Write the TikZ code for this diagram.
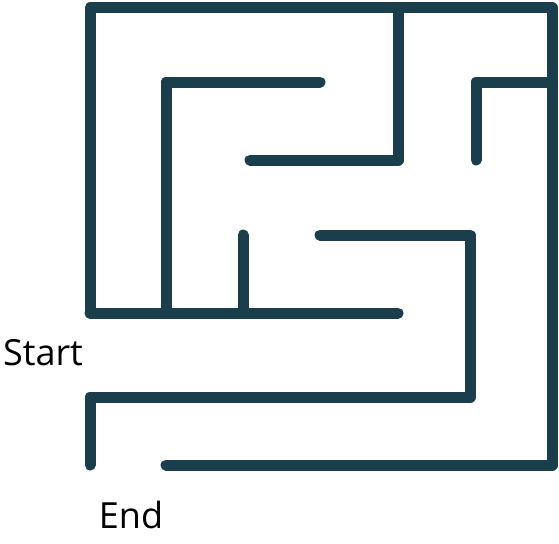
\documentclass[tikz,border=0pt]{standalone}
\usepackage{fontspec}
\setmainfont{Open Sans}
\usepackage{xcolor}
\usepackage{tikz}
\usetikzlibrary{positioning}

\definecolor{mazeteal}{HTML}{1A3E4C}

\begin{document}
\begin{tikzpicture}[
            x=1pt, y=-1pt,
            wall/.style={draw=mazeteal, line width=11pt, line cap=round, line join=round},
            label/.style={anchor=base, inner sep=0pt, font=\fontsize{36}{43}\selectfont}
        ]
            \useasboundingbox (0,0) rectangle (559,543);

            % outer walls
            \draw[wall] (90,313) -- (90,8) -- (552,8) -- (552,465) -- (166,465);
            % inner walls
            \draw[wall] (398,8) -- (398,160) -- (250,160);
            \draw[wall] (320,82) -- (166,82) -- (166,313);
            \draw[wall] (90,313) -- (398,313);
            \draw[wall] (243,235) -- (243,313);
            \draw[wall] (552,82) -- (476,82) -- (476,160);
            \draw[wall] (320,235) -- (470,235) -- (470,397) -- (90,397) -- (90,465);

            % entry and exit
            \node[label] (start) at (43,365) {Start};
            \node[label] (end) at (131,528) {End};

        \end{tikzpicture}
\end{document}
